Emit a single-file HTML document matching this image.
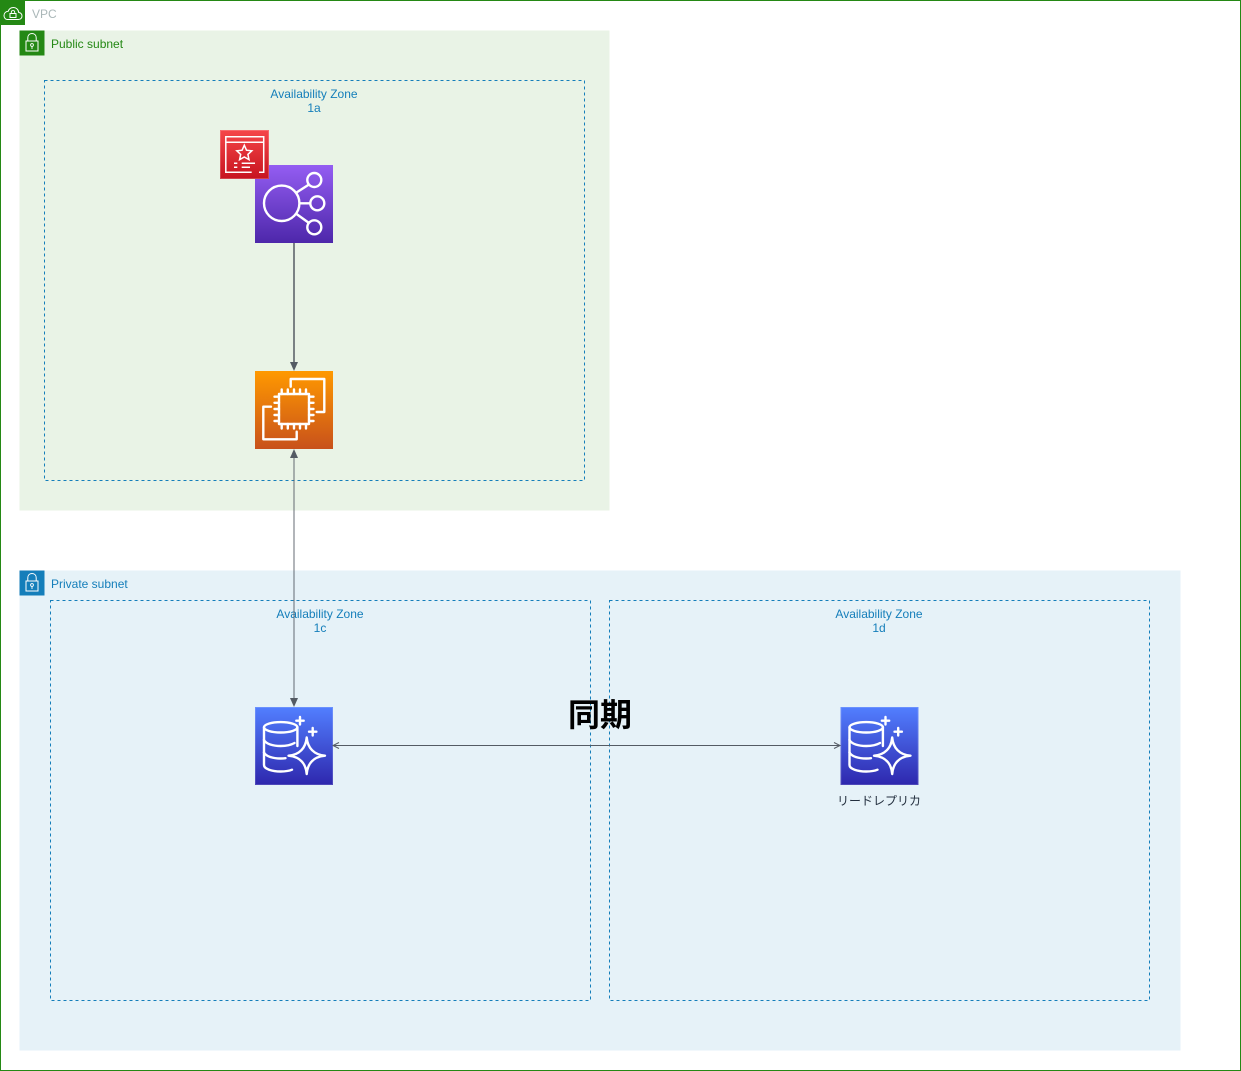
<!DOCTYPE html>
<html>
<head>
<meta charset="utf-8">
<style>
html,body{margin:0;padding:0;background:#fff;}
svg{display:block;}
text{font-family:"Liberation Sans","Noto Sans CJK JP",sans-serif;font-size:12px;}
</style>
</head>
<body>
<svg width="1241" height="1071" viewBox="0 0 1241 1071" xmlns="http://www.w3.org/2000/svg">
<defs>
<linearGradient id="gp" x1="0" y1="1" x2="0" y2="0"><stop offset="0" stop-color="#4D27AA"/><stop offset="1" stop-color="#945DF2"/></linearGradient>
<linearGradient id="go" x1="0" y1="1" x2="0" y2="0"><stop offset="0" stop-color="#C8511B"/><stop offset="1" stop-color="#FF9900"/></linearGradient>
<linearGradient id="gb" x1="0" y1="1" x2="0" y2="0"><stop offset="0" stop-color="#2E27AD"/><stop offset="1" stop-color="#527FFF"/></linearGradient>
<linearGradient id="gr" x1="0" y1="1" x2="0" y2="0"><stop offset="0" stop-color="#C7131F"/><stop offset="1" stop-color="#F54749"/></linearGradient>
<g id="rds">
<rect x="0" y="0" width="78" height="78" fill="url(#gb)"/>
<rect x="0.5" y="0.5" width="77" height="77" fill="none" stroke="#fff" stroke-opacity=".15"/>
<g fill="none" stroke="#fff" stroke-width="2.4" stroke-linecap="round" stroke-linejoin="round">
<ellipse cx="25.7" cy="20.3" rx="16.7" ry="5.2"/>
<path d="M9 20.3V58C9 62 17 64.5 25.7 64.5C30 64.5 34 64 37 62.7"/>
<path d="M42.4 20.3V39"/>
<path d="M9 33C11 37 18 39 25.7 39C31 39 36 38 39.5 36"/>
<path d="M9 45.5C11 49.5 18 51.5 25.7 51.5C27.5 51.5 29 51.4 30.5 51.2"/>
<path d="M51.7 30.5C52.6 41 59 47.8 70 48.7C59 49.7 52.6 56 51.7 67C50.8 56 44.5 49.7 33.5 48.7C44.5 47.8 50.8 41 51.7 30.5Z"/>
<path d="M45 10V17.5M41.3 13.7H48.7M57.7 21V28.5M54 24.7H61.4"/>
</g>
</g>
<g id="lock-p">
<path d="M8.3 10.5V7.5C8.3 4.7 10 3 12.5 3C15 3 16.7 4.7 16.7 7.5V10.5" fill="none" stroke="#fff" stroke-width="1"/>
<rect x="6.5" y="10.5" width="12" height="10" fill="none" stroke="#fff" stroke-width="1"/>
<circle cx="12.5" cy="14.5" r="1.4" fill="none" stroke="#fff" stroke-width=".9"/>
<path d="M12.5 15.9V18.5" stroke="#fff" stroke-width=".9"/>
</g>
</defs>

<!-- VPC -->
<rect x="0.5" y="0.5" width="1240" height="1070" fill="#fff" stroke="#248814" stroke-width="1"/>
<rect x="0" y="0" width="25" height="25" fill="#248814"/>
<path d="M7 19.5H18.5C21 19.5 22 17.5 22 16C22 14 20.5 12.5 18.7 12.5C18.5 9.5 16 7.5 13.5 7.5C11 7.5 9 9 8.3 11.2C6 11.3 4 13 4 15.5C4 17.7 5.5 19.5 7 19.5Z" fill="none" stroke="#fff" stroke-width="1"/>
<rect x="10" y="13.5" width="6" height="4" fill="none" stroke="#fff" stroke-width="1"/>
<path d="M11.3 13.5V12.2C11.3 10 14.7 10 14.7 12.2V13.5" fill="none" stroke="#fff" stroke-width=".9"/>
<text x="32" y="18" fill="#AAB7B8">VPC</text>

<!-- Public subnet -->
<rect x="19.5" y="30.5" width="590" height="480" fill="#E9F3E6"/>
<rect x="19.5" y="30.5" width="25" height="25" fill="#248814"/>
<use href="#lock-p" x="19.5" y="30.5"/>
<text x="51" y="48" fill="#248814">Public subnet</text>

<!-- Private subnet -->
<rect x="19.5" y="570.5" width="1161" height="480" fill="#E6F2F8"/>
<rect x="19.5" y="570.5" width="25" height="25" fill="#147EBA"/>
<use href="#lock-p" x="19.5" y="570.5"/>
<text x="51" y="588" fill="#147EBA">Private subnet</text>

<!-- AZ boxes -->
<g fill="none" stroke="#147EBA" stroke-width="1" stroke-dasharray="3 3">
<rect x="44.5" y="80.5" width="540" height="400"/>
<rect x="50.5" y="600.5" width="540" height="400"/>
<rect x="609.5" y="600.5" width="540" height="400"/>
</g>
<g fill="#147EBA" text-anchor="middle">
<text x="314" y="98">Availability Zone</text>
<text x="314" y="112">1a</text>
<text x="320" y="618">Availability Zone</text>
<text x="320" y="632">1c</text>
<text x="879" y="618">Availability Zone</text>
<text x="879" y="632">1d</text>
</g>

<!-- ELB -->
<g transform="translate(255,165)">
<rect width="78" height="78" fill="url(#gp)"/>
<g fill="none" stroke="#fff" stroke-width="2.4">
<circle cx="26.7" cy="38.3" r="17.7"/>
<circle cx="59.3" cy="15" r="7"/>
<circle cx="62.3" cy="38.3" r="7"/>
<circle cx="59.3" cy="62.3" r="7"/>
<path d="M41.5 27.5L54 19.5M44.5 38.3H55.3M41.5 49L54 58"/>
</g>
</g>

<!-- Certificate -->
<g>
<rect x="220" y="130" width="49" height="49" fill="url(#gr)"/>
<rect x="220.5" y="130.5" width="48" height="48" fill="none" stroke="#fff" stroke-opacity=".2"/>
<g fill="none" stroke="#fff" stroke-width="1.5">
<path d="M251.7 172.3H225.8V136.8H263.7V172.3H259"/>
<path d="M225.8 142.3H263.7"/>
<path d="M244.3 145.2L246.5 150.2L251.8 150.8L247.9 154.4L249 159.7L244.3 157L239.6 159.7L240.7 154.4L236.8 150.8L242.1 150.2Z"/>
<path d="M234 163.3H237.3M241.7 163.3H255M234 167.3H237.3M241.7 167.3H250"/>
</g>
</g>

<!-- EC2 -->
<g transform="translate(255,371)">
<rect width="78" height="78" fill="url(#go)"/>
<g fill="none" stroke="#fff" stroke-width="2.4" stroke-linejoin="round" stroke-linecap="round">
<rect x="24" y="23" width="30" height="30"/>
<path d="M35.7 15.7V8H69.3V41H61.7"/>
<path d="M16 35.7H8.3V68.3H41.7V60.7"/>
<path d="M26.7 18.5V23M32.8 18.5V23M39 18.5V23M45 18.5V23M51 18.5V23"/>
<path d="M26.7 53V57.5M32.8 53V57.5M39 53V57.5M45 53V57.5M51 53V57.5"/>
<path d="M19.5 25.7H24M19.5 31.8H24M19.5 38H24M19.5 44H24M19.5 50H24"/>
<path d="M54 25.7H58.5M54 31.8H58.5M54 38H58.5M54 44H58.5M54 50H58.5"/>
</g>
</g>

<!-- RDS -->
<use href="#rds" x="255" y="707"/>
<use href="#rds" x="840.5" y="707"/>
<text x="879" y="805" fill="#232F3E" text-anchor="middle">リードレプリカ</text>

<!-- Connectors -->
<path d="M294 243V363" stroke="#545B64" stroke-width="1.5" fill="none"/>
<path d="M294 371L290 362H298Z" fill="#545B64"/>
<path d="M294 457V699" stroke="#545B64" stroke-opacity=".75" stroke-width="1.2" fill="none"/>
<path d="M294 449L290 458H298Z" fill="#545B64"/>
<path d="M294 707L290 698H298Z" fill="#545B64"/>
<path d="M333 745.5H840" stroke="#545B64" stroke-width="1" fill="none"/>
<path d="M339 742.5L333 745.5L339 748.5M834 742.5L840 745.5L834 748.5" stroke="#545B64" stroke-width="1" fill="none"/>

<text x="600" y="726" fill="#000" text-anchor="middle" style="font-size:32px;font-weight:700;font-family:'Liberation Sans','Noto Sans CJK JP',sans-serif;">同期</text>
</svg>
</body>
</html>
